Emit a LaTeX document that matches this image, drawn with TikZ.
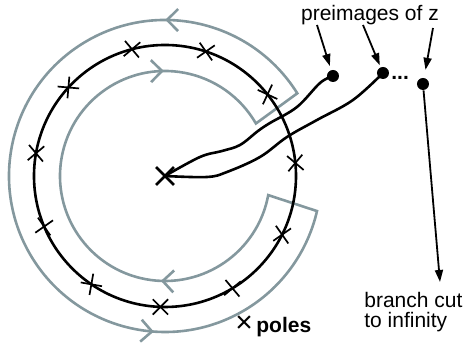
\documentclass[tikz,border=0pt]{standalone}
\usepackage{fontspec}
\setmainfont{Liberation Sans}
\usetikzlibrary{arrows.meta,decorations.markings,shapes.misc}
\definecolor{contour}{RGB}{132,152,158}
\begin{document}
\begin{tikzpicture}[x=0.5pt, y=0.5pt, >={Triangle[length=6pt,width=4pt]},
	pole/.style={cross out, draw, line width=0.85pt, minimum size=6.8pt, inner sep=0pt},
	dot/.style={circle, fill, inner sep=0pt, minimum size=6pt},
	lbl/.style={font=\fontsize{10.5}{10}\selectfont, inner sep=0pt},
	chevron/.style={decoration={markings,
		mark=at position 0.102 with {\arrow{Straight Barb[length=5.5pt,width=11pt]}},
		mark=at position 0.412 with {\arrow{Straight Barb[length=5.5pt,width=11pt]}},
		mark=at position 0.685 with {\arrow{Straight Barb[length=5.5pt,width=11pt]}},
		mark=at position 0.895 with {\arrow{Straight Barb[length=5.5pt,width=11pt]}}},
		postaction={decorate}}]
	\useasboundingbox (0,0) rectangle (463,346);
	\coordinate (O) at (165,170);
	\draw[color=contour, line width=1.3pt, chevron] ([shift={(32:156)}]O) arc[start angle=32, end angle=347, radius=156]
		-- ([shift={(349.5:105)}]O) arc[start angle=349.5, end angle=30, radius=105] -- cycle;
	\draw[line width=1.3pt] (O) circle[radius=131];
	\foreach \a/\r [count=\i] in {104.6/-5, 71.8/-10, 137.5/40, 170/-5, 38.5/20, 5.7/5, 202.7/-10, 235.8/35, 268/0, 301/-5, 333.4/-10}
		\node[pole, rotate=\r] (p\i) at ([shift={(\a:131)}]O) {};
	\node[pole, line width=1.4pt, minimum size=7.5pt] (ctr) at (O) {};
	\node[dot] (d1) at (333,270) {};
	\node[dot] (d2) at (383,273) {};
	\node[dot] (d3) at (423,262) {};
	\node[lbl, anchor=base west] (ell) at (391,266) {\textbf{...}};
	\draw[line width=1.3pt] plot[smooth, tension=0.6] coordinates {(ctr.center) (200,189) (222,195) (240,201) (258,215) (270,223) (297,239) (320,263) (d1.center)};
	\draw[line width=1.3pt] plot[smooth, tension=0.6] coordinates {(ctr.center) (207,169) (227,174) (260,189) (287,209) (317,226) (353,246) (d2.center)};
	\node[lbl, anchor=base] (pre) at (370,325) {preimages of z};
	\coordinate (t1) at (317,321);
	\coordinate (t2) at (363,321);
	\coordinate (t3) at (433,318);
	\draw[->, line width=0.9pt, shorten >=2pt] (t1) -- (d1);
	\draw[->, line width=0.9pt, shorten >=1pt] (t2) -- (d2);
	\draw[->, line width=0.9pt, shorten >=4pt] (t3) -- (d3);
	\coordinate (inf) at (440,64);
	\draw[->, line width=0.9pt] (d3) -- (inf);
	\node[lbl, anchor=north west, align=left] (cut) at (364,54) {branch cut\\to infinity};
	\node[lbl, anchor=base west] (leg) at (235,13) {{\fontsize{15}{15}\selectfont ×}\,\textbf{poles}};
\end{tikzpicture}
\end{document}
